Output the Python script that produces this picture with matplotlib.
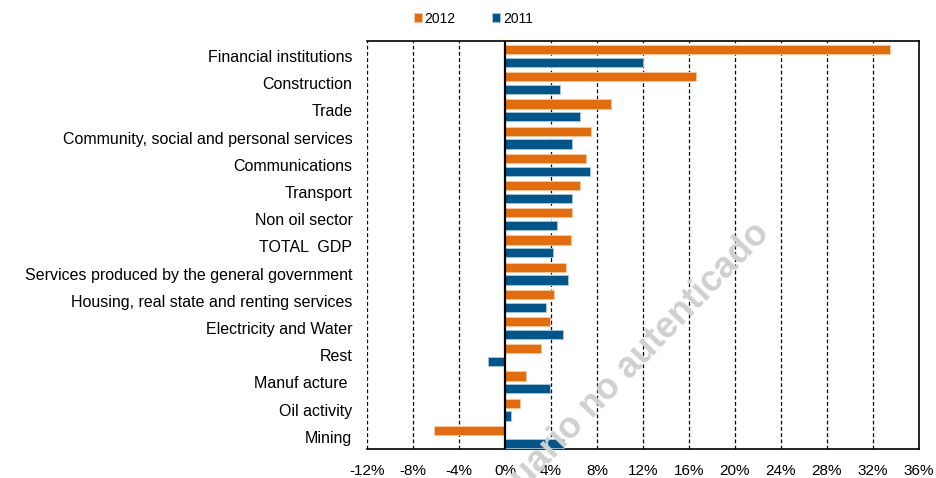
import numpy as np
import matplotlib
matplotlib.use("Agg")
import matplotlib.pyplot as plt
from matplotlib.ticker import FuncFormatter

plt.rcParams["font.family"] = ["Liberation Sans", "DejaVu Sans"]

SECTORS = ["Financial institutions", "Construction", "Trade",
           "Community, social and personal services", "Communications",
           "Transport", "Non oil sector", "TOTAL  GDP",
           "Services produced by the general government",
           "Housing, real state and renting services", "Electricity and Water",
           "Rest", "Manuf acture ", "Oil activity", "Mining"]
G2012 = [33.5, 16.6, 9.2, 7.5, 7.0, 6.5, 5.8, 5.7, 5.3, 4.3, 3.9, 3.1, 1.8, 1.3, -6.2]
G2011 = [12.0, 4.8, 6.5, 5.8, 7.4, 5.8, 4.5, 4.2, 5.5, 3.6, 5.0, -1.5, 3.9, 0.5, 5.1]
XTICKS = list(range(-12, 37, 4))

ORANGE = "#E46C0A"
BLUE = "#00558B"

fig = plt.figure(figsize=(9.37, 4.78), dpi=100)
ax = fig.add_axes([367 / 937, 1 - 449 / 478, (919 - 367) / 937, (449 - 41) / 478])

y = np.arange(len(SECTORS))
off, h = 0.235, 0.34
ax.barh(y - off, G2012, height=h, color=ORANGE, edgecolor="#f6c9a4", lw=0.6, label="2012", zorder=3)
ax.barh(y + off, G2011, height=h, color=BLUE, edgecolor="#a9c7dc", lw=0.6, label="2011", zorder=3)

ax.set_xlim(-12, 36)
ax.set_ylim(len(SECTORS) - 0.55, -0.55)
ax.set_xticks(XTICKS)
ax.xaxis.set_major_formatter(FuncFormatter(lambda v, _: f"{v:.0f}%"))
ax.set_yticks(y)
ax.set_yticklabels(SECTORS)
ax.tick_params(axis="y", length=0, labelsize=11.5, colors="black", pad=10.5)
ax.tick_params(axis="x", length=0, labelsize=11, colors="black", pad=11)

for v in XTICKS[1:-1]:
    if v == 0:
        ax.axvline(0, color="black", lw=1.6, zorder=4)
    else:
        ax.axvline(v, color="black", lw=0.9, ls=(0, (3, 2)), zorder=1)
ax.axvline(-12, color="black", lw=0.9, ls=(0, (3, 2)), zorder=1)
ax.spines["left"].set_visible(False)
for s in ["top", "right", "bottom"]:
    ax.spines[s].set_linewidth(1.2)

leg = fig.legend(loc="upper left", bbox_to_anchor=(408 / 937, 1 - 6 / 478), ncol=2,
                 frameon=False, fontsize=10, handlelength=0.6, handleheight=0.6,
                 handletextpad=0.2, columnspacing=2.6, borderaxespad=0)

fig.text(771 / 937, 1 - 234 / 478, "Usuario no autenticado", rotation=46,
         rotation_mode="anchor", ha="right", va="baseline", fontsize=26,
         fontweight="bold", color="#d0d0d0", zorder=10)

fig.savefig("out.png", dpi=100)
